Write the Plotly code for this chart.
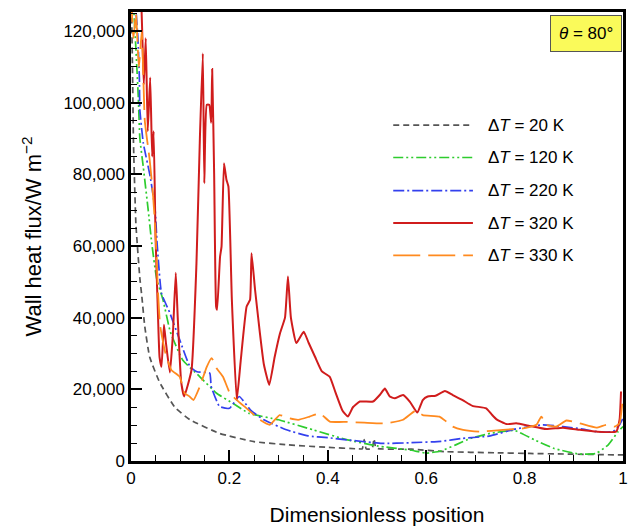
import plotly.graph_objects as go

# ---- data (dimensionless position, wall heat flux W m^-2) ----
x_20 = [0.0, 0.003, 0.005, 0.010, 0.018, 0.022, 0.028, 0.038, 0.058, 0.089, 0.12, 0.18,
        0.25, 0.32, 0.40, 0.46, 0.470, 0.474, 0.478, 0.490, 0.494, 0.498, 0.57, 0.64,
        0.74, 0.81, 0.88, 0.99, 1.0]
y_20 = [135000, 110000, 89000, 66000, 51000, 46000, 37500, 29000, 22000, 15000, 11500, 7700,
        5400, 4500, 3800, 3400, 3400, 6000, 3400, 3400, 6200, 3600, 3300, 2600,
        2300, 2100, 1950, 1700, 1700]

x_120 = [0.004, 0.010, 0.015, 0.018, 0.025, 0.035, 0.042, 0.052, 0.065, 0.08, 0.105, 0.140,
         0.174, 0.207, 0.24, 0.30, 0.37, 0.44, 0.50, 0.57, 0.60, 0.63, 0.66, 0.69, 0.73,
         0.78, 0.82, 0.86, 0.91, 0.945, 0.97, 0.99, 1.0]
y_120 = [130000, 115000, 101000, 90000, 82000, 70000, 61000, 51000, 45000, 36000, 28200, 23500,
         18900, 16100, 13300, 11500, 8700, 5900, 4200, 3000, 2200, 2800, 4500, 6300, 7700,
         8500, 5900, 3500, 1950, 2100, 4500, 8200, 9600]

x_220 = [0.008, 0.014, 0.017, 0.018, 0.025, 0.039, 0.049, 0.053, 0.062, 0.079, 0.099, 0.120,
         0.134, 0.160, 0.163, 0.180, 0.200, 0.220, 0.243, 0.270, 0.316, 0.36, 0.40, 0.44,
         0.51, 0.57, 0.63, 0.674, 0.73, 0.78, 0.837, 0.878, 0.918, 0.946, 0.98, 0.993, 1.0]
y_220 = [130000, 118000, 107000, 98000, 88700, 79400, 70100, 60800, 46800, 41300, 33800, 26300,
         24900, 24500, 20800, 15200, 14700, 18000, 14200, 11500, 8700, 7000, 6500, 5900,
         4900, 5100, 5500, 6300, 7000, 8900, 10100, 9600, 8900, 8200, 8200, 10100, 12000]

x_320 = [0.012, 0.020, 0.026, 0.030, 0.034, 0.039, 0.043, 0.046, 0.050, 0.055, 0.058, 0.062,
         0.067, 0.071, 0.079, 0.085, 0.091, 0.095, 0.102, 0.108, 0.123, 0.133, 0.140, 0.146,
         0.149, 0.154, 0.159, 0.163, 0.165, 0.169, 0.173, 0.175, 0.181, 0.184, 0.189, 0.194,
         0.198, 0.205, 0.215, 0.223, 0.235, 0.242, 0.245, 0.252, 0.262, 0.270, 0.281, 0.292,
         0.303, 0.313, 0.319, 0.325, 0.336, 0.351, 0.361, 0.374, 0.388, 0.404, 0.416, 0.430,
         0.441, 0.451, 0.465, 0.492, 0.506, 0.516, 0.526, 0.536, 0.553, 0.567, 0.582, 0.593,
         0.603, 0.619, 0.638, 0.654, 0.674, 0.694, 0.722, 0.733, 0.743, 0.763, 0.783, 0.810,
         0.844, 0.878, 0.912, 0.946, 0.986, 0.993, 0.996]
y_320 = [135000, 130000, 105000, 118000, 92000, 107000, 85000, 92000, 62000, 40000, 29000, 26300,
         38000, 33000, 24700, 35000, 52500, 40000, 22000, 18000, 25400, 55000, 90000, 113700,
         77500, 99400, 99400, 94400, 109400, 80000, 43100, 42200, 57000, 59800, 83100, 78500,
         76600, 45000, 17000, 28000, 43100, 45000, 58000, 48000, 35700, 27000, 21200, 29000,
         35700, 40000, 51500, 40000, 32900, 36100, 33000, 29100, 25000, 23500, 19000, 14000,
         12400, 15000, 16600, 16600, 18500, 20200, 18000, 17500, 18400, 16500, 13500, 17000,
         18000, 18200, 19500, 18400, 17000, 15400, 14700, 13000, 11600, 10300, 10500, 9800,
         8900, 9300, 8700, 8200, 8200, 11500, 19400]

x_330 = [0.0, 0.005, 0.010, 0.016, 0.022, 0.028, 0.038, 0.045, 0.049, 0.052, 0.055, 0.059,
         0.063, 0.070, 0.082, 0.099, 0.109, 0.119, 0.127, 0.140, 0.154, 0.164, 0.174, 0.187,
         0.201, 0.215, 0.235, 0.262, 0.282, 0.302, 0.323, 0.340, 0.363, 0.384, 0.404, 0.440,
         0.474, 0.519, 0.553, 0.578, 0.593, 0.627, 0.641, 0.654, 0.675, 0.709, 0.756, 0.797,
         0.824, 0.834, 0.844, 0.864, 0.885, 0.912, 0.946, 0.966, 0.983, 0.993, 0.999]
y_330 = [130000, 118000, 125000, 110000, 120000, 95000, 84000, 73800, 65400, 57000, 46800, 38000,
         34700, 30100, 25400, 23500, 18900, 18000, 17000, 20800, 26300, 28700, 25900, 23500,
         18900, 17000, 14700, 11500, 10100, 12800, 11900, 11500, 12400, 13300, 11000, 10900,
         10700, 10500, 11500, 14000, 12800, 12400, 11000, 9600, 8700, 8200, 8700, 9100,
         10100, 12400, 10100, 9600, 11300, 10500, 9300, 10100, 9600, 10500, 17000]

x_tick_vals = [0, 0.2, 0.4, 0.6, 0.8, 1.0]
x_tick_text = ["0", "0.2", "0.4", "0.6", "0.8", "1"]

series_names = ["20 K", "120 K", "220 K", "320 K", "330 K"]
series_x = [x_20, x_120, x_220, x_320, x_330]
series_y = [y_20, y_120, y_220, y_320, y_330]
colors = ["#555555", "#2ecc2e", "#3340ee", "#d01c1c", "#ff8a1f"]
dashes = ["6px,4px", "10px,3px,2px,3px,2px,3px", "11px,3px,2px,3px", "solid", "27px,8px"]
widths = [1.7, 1.7, 1.7, 2.0, 1.8]

FONT = "Liberation Sans, Arial, sans-serif"

fig = go.Figure()
for xs, ys, c, d, w, n in zip(series_x, series_y, colors, dashes, widths, series_names):
    fig.add_trace(go.Scatter(x=xs, y=ys, mode="lines", name="\u0394T = " + n,
                             line=dict(color=c, dash=d, width=w, shape="spline", smoothing=0.4),
                             showlegend=False))

# manual legend (long line samples as in the reference)
leg_y = [0.748, 0.676, 0.602, 0.530, 0.458]
for yy, c, d, w, n in zip(leg_y, colors, dashes, widths, series_names):
    fig.add_shape(type="line", xref="paper", yref="paper", x0=0.533, x1=0.695, y0=yy, y1=yy,
                  line=dict(color=c, dash=d, width=w))
    fig.add_annotation(xref="paper", yref="paper", x=0.722, y=yy, xanchor="left", yanchor="middle",
                       text="\u0394<i>T</i> = " + n, showarrow=False,
                       font=dict(family=FONT, size=17, color="black"))

fig.add_annotation(xref="paper", yref="paper", x=0.998, y=0.994, xanchor="right", yanchor="top",
                   text="<i>\u03b8</i> = 80\u00b0", showarrow=False,
                   font=dict(family=FONT, size=17, color="black"),
                   bgcolor="#fafa5a", bordercolor="#555555", borderwidth=1, borderpad=8)

axis_common = dict(showline=True, linecolor="black", linewidth=2.5, mirror=True,
                   ticks="inside", tickcolor="black", showgrid=False, zeroline=False,
                   automargin=False,
                   tickfont=dict(family=FONT, size=17, color="black"))

fig.update_xaxes(range=[0, 1], ticklen=11, tickwidth=2,
                 tickvals=x_tick_vals, ticktext=x_tick_text,
                 minor=dict(dtick=0.05, ticklen=6, tickwidth=1, ticks="inside", tickcolor="black"),
                 title=dict(text="Dimensionless position", font=dict(family=FONT, size=21, color="black"),
                            standoff=22),
                 **axis_common)
fig.update_yaxes(range=[0, 125300], dtick=20000, tickformat=",d", ticklen=11, tickwidth=2,
                 minor=dict(dtick=5000, ticklen=6, tickwidth=1, ticks="inside", tickcolor="black"),
                 title=dict(text="Wall heat flux/W m<sup>\u22122</sup>",
                            font=dict(family=FONT, size=22, color="black"), standoff=16),
                 **axis_common)

fig.update_layout(width=630, height=526, margin=dict(l=131, r=7, t=12, b=65),
                  paper_bgcolor="white", plot_bgcolor="white", showlegend=False)

fig.write_html("out.html")
